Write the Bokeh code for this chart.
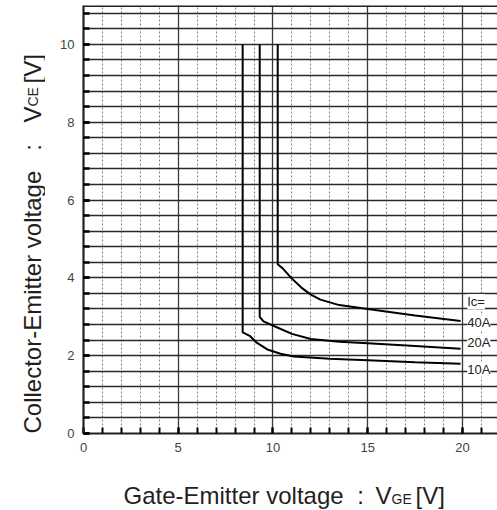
from bokeh.plotting import figure
from bokeh.models import FixedTicker, Label, Span, Range1d
from bokeh.layouts import row, column
from bokeh.core.properties import value
from bokeh.embed import file_html
from bokeh.resources import INLINE

# ---- data ----
vge_10a = [8.4, 8.4, 8.8, 9.1, 9.7, 10.4, 11.1, 13.0, 15.0, 17.5, 19.9]
vce_10a = [10.0, 2.6, 2.5, 2.35, 2.16, 2.05, 1.98, 1.92, 1.88, 1.83, 1.79]

vge_20a = [9.3, 9.3, 9.5, 10.2, 11.0, 12.0, 13.5, 15.0, 17.5, 19.9]
vce_20a = [10.0, 3.0, 2.88, 2.73, 2.56, 2.43, 2.36, 2.32, 2.25, 2.18]

vge_40a = [10.25, 10.25, 10.5, 11.0, 11.5, 12.0, 12.5, 13.5, 15.0, 17.5, 19.9]
vce_40a = [10.0, 4.35, 4.25, 3.98, 3.75, 3.57, 3.44, 3.3, 3.2, 3.03, 2.89]

series_labels = ["40A", "20A", "10A"]
label_heading = "Ic="
x_major_ticks = [0, 5, 10, 15, 20]
y_major_ticks = [0, 2, 4, 6, 8, 10]
x_title = ["Gate-Emitter voltage", ":", "V", "GE", "[V]"]
y_title = ["Collector-Emitter voltage", ":", "V", "CE", "[V]"]

FONT = "Liberation Sans"
INK = "#231f20"

# ---------------- main chart ----------------
p = figure(width=452, height=460, output_backend="svg", toolbar_location=None,
           x_range=Range1d(0, 21.85), y_range=Range1d(0, 11.0),
           min_border_left=38, min_border_right=0, min_border_top=5, min_border_bottom=27)
p.outline_line_color = None
p.background_fill_color = "white"
p.border_fill_color = "white"

x_minor = [i for i in range(0, 22) if i % 5 != 0]
y_all = [round(0.4 * i, 1) for i in range(0, 28)]

p.xgrid.ticker = FixedTicker(ticks=[5, 10, 15, 20], minor_ticks=x_minor)
p.xgrid.grid_line_color = "#3a3a3a"
p.xgrid.grid_line_width = 1.3
p.xgrid.minor_grid_line_color = "#808080"
p.xgrid.minor_grid_line_width = 1
p.xgrid.minor_grid_line_dash = "2 2"
p.ygrid.ticker = FixedTicker(ticks=y_all[1:])
p.ygrid.grid_line_color = "#2a2a2a"
p.ygrid.grid_line_width = 1.6

xa = p.xaxis[0]
xa.ticker = FixedTicker(ticks=x_major_ticks, minor_ticks=list(range(0, 22)))
xa.major_tick_in = 6
xa.major_tick_out = 0
xa.minor_tick_in = 6
xa.minor_tick_out = 0
xa.axis_line_width = 2.2
xa.axis_line_color = "#222222"
xa.major_tick_line_width = 2
xa.minor_tick_line_width = 2
xa.major_label_text_font = FONT
xa.major_label_text_font_size = "13px"
xa.major_label_text_color = "#444444"
xa.major_label_standoff = 9

ya = p.yaxis[0]
ya.ticker = FixedTicker(ticks=y_major_ticks, minor_ticks=y_all)
ya.major_tick_in = 6
ya.major_tick_out = 0
ya.minor_tick_in = 6
ya.minor_tick_out = 0
ya.axis_line_width = 2.2
ya.axis_line_color = "#222222"
ya.major_tick_line_width = 2.5
ya.minor_tick_line_width = 2.5
ya.major_label_text_font = FONT
ya.major_label_text_font_size = "13px"
ya.major_label_text_color = "#444444"
ya.major_label_standoff = 9

p.add_layout(Span(location=11.0, dimension="width", line_color="#222222", line_width=3))

for xs, ys in [(vge_10a, vce_10a), (vge_20a, vce_20a), (vge_40a, vce_40a)]:
    p.line(xs, ys, line_color="black", line_width=2)

label_x = 20.25
for txt, yy in [(label_heading, 3.39), (series_labels[0], 2.84), (series_labels[1], 2.33), (series_labels[2], 1.65)]:
    p.add_layout(Label(x=label_x, y=yy, text=txt, text_font=FONT, text_font_size="13px",
                       text_color="#222222", text_baseline="middle", text_align="left",
                       background_fill_color="white", background_fill_alpha=1.0))

# ---------------- y-axis title panel ----------------
L = figure(width=45, height=510, output_backend="svg", toolbar_location=None,
           x_range=Range1d(0, 45), y_range=Range1d(0, 510),
           x_axis_type=None, y_axis_type=None,
           min_border_left=0, min_border_right=0, min_border_top=0, min_border_bottom=0)
L.grid.visible = False
L.outline_line_color = None
yt_pos = [77, 363, 388, 404, 427]
t_size = ["24px", "24px", "24px", "14px", "24px"]
t_align = ["left", "center", "left", "left", "left"]
for txt, yy, fs, al in zip(y_title, yt_pos, t_size, t_align):
    L.text(x=[32], y=[yy], text=[txt], angle=1.5707963, text_font=value(FONT),
           text_font_size=fs, text_color=INK, text_align=al, text_baseline="alphabetic")

# ---------------- x-axis title panel (frame aligns with main frame: 83..497) ----------------
B = figure(width=452, height=50, output_backend="svg", toolbar_location=None,
           x_range=Range1d(83, 497), y_range=Range1d(0, 50),
           x_axis_type=None, y_axis_type=None,
           min_border_left=38, min_border_right=0, min_border_top=0, min_border_bottom=0)
B.grid.visible = False
B.outline_line_color = None
xt_pos = [123, 360, 375, 391, 415]
xt_off = [21, 21, 21, 30, 21]
for txt, xx, fs, al, off in zip(x_title, xt_pos, t_size, t_align, xt_off):
    B.text(x=[xx], y=[50], text=[txt], text_font=value(FONT), y_offset=off,
           text_font_size=fs, text_color=INK, text_align=al, text_baseline="top")

layout = row(L, column(p, B, spacing=0), spacing=0)
open("out.html", "w").write(file_html(layout, INLINE))
